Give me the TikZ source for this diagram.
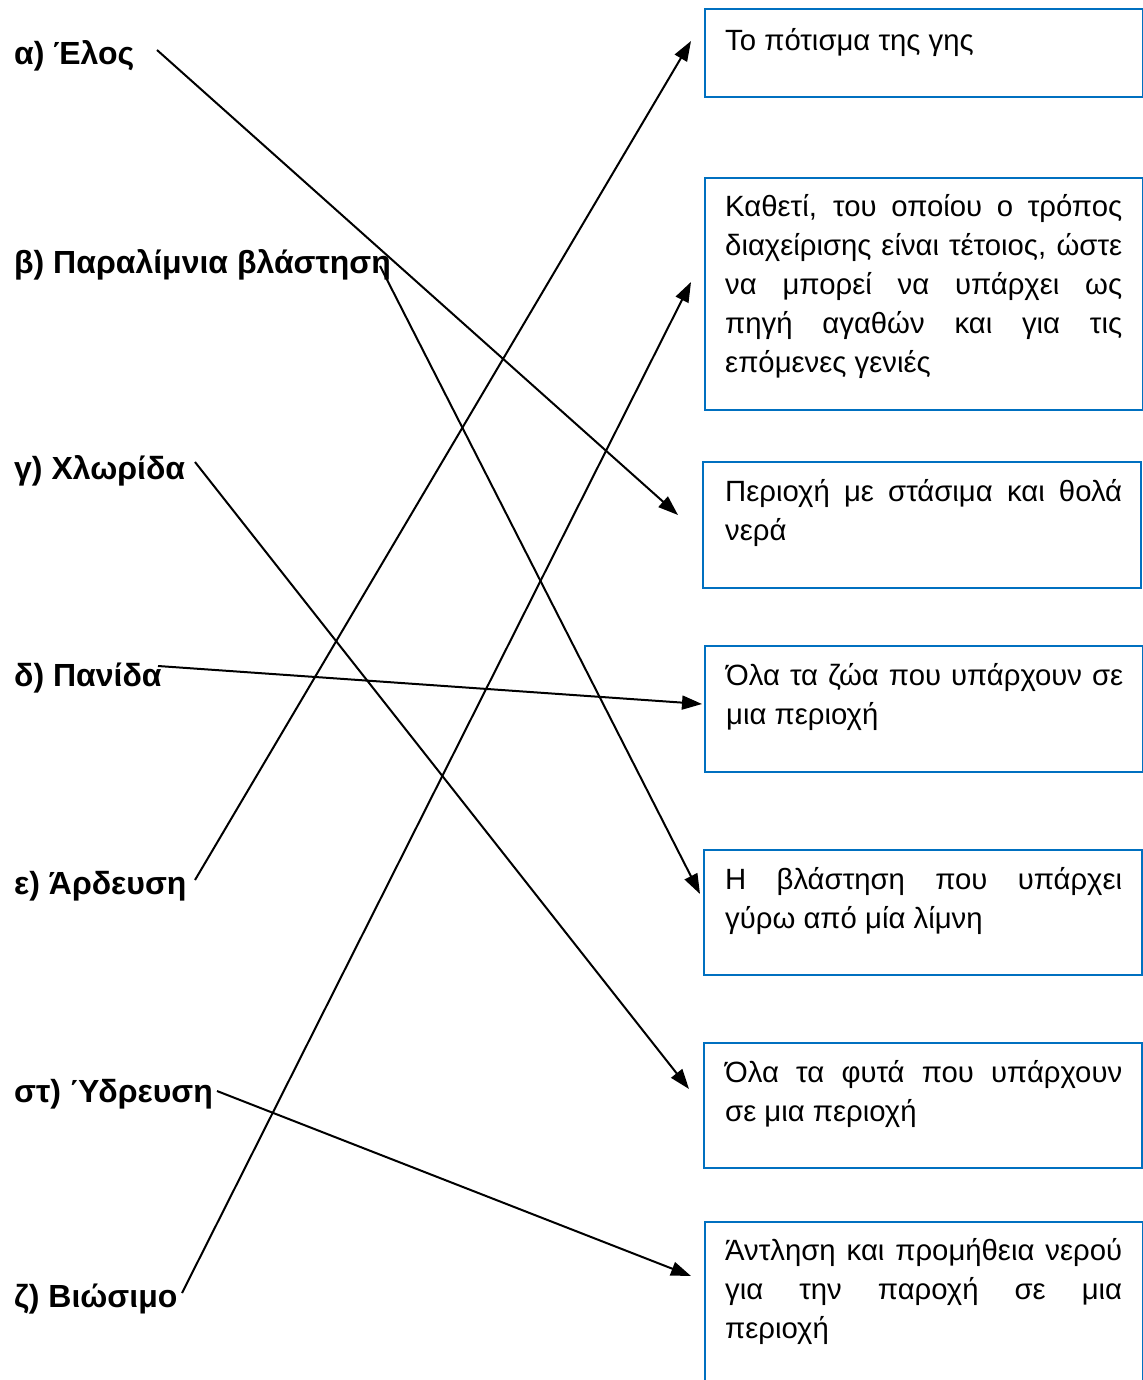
\documentclass[tikz,border=0pt]{standalone}
\usepackage{fontspec}
\setmainfont{Liberation Sans}
\usetikzlibrary{arrows.meta}
\definecolor{boxblue}{RGB}{0,112,192}
\newcommand{\jl}[1]{\leavevmode{\spaceskip=\fontdimen2\font plus 1fil\relax\hbox to 397pt{#1}}}
\newcommand{\natl}[1]{\leavevmode{\spaceskip=0pt\relax\hbox{#1}}}
\begin{document}
\begin{tikzpicture}[x=1pt,y=-1pt,
  lbl/.style={anchor=base west, inner sep=0pt, font=\fontsize{32}{38}\selectfont\bfseries},
  boxst/.style={draw=boxblue, line width=2pt, minimum width=438pt, anchor=north west, inner sep=0pt},
  txt/.style={anchor=north west, inner sep=0pt, text width=397pt, align=left, font=\fontsize{29.3}{39}\selectfont},
  arr/.style={line width=2pt, -{Triangle[length=20pt,width=14pt]}}]
\useasboundingbox[fill=white] (0,0) rectangle (1142,1380);

% left labels
\node[lbl] (la) at (14,65)   {α) Έλος};
\node[lbl] (lb) at (14,273)  {β) Παραλίμνια βλάστηση};
\node[lbl] (lc) at (14,479)  {γ) Χλωρίδα};
\node[lbl] (ld) at (14,686)  {δ) Πανίδα};
\node[lbl] (le) at (14,894)  {ε) Άρδευση};
\node[lbl] (lf) at (14,1102) {στ) Ύδρευση};
\node[lbl] (lg) at (14,1307) {ζ) Βιώσιμο};

% boxes
\node[boxst, minimum height=88pt]  (b1) at (704,8)    {};
\node[boxst, minimum height=232pt] (b2) at (704,177)  {};
\node[boxst, minimum height=126pt] (b3) at (702,461)  {};
\node[boxst, minimum height=126pt] (b4) at (704,645)  {};
\node[boxst, minimum height=125pt] (b5) at (703,849)  {};
\node[boxst, minimum height=125pt] (b6) at (703,1042) {};
\node[boxst, minimum height=200pt] (b7) at (704,1221) {};

% box texts
\node[txt] (t1) at (725,22.7) {\strut\natl{Το πότισμα της γης}};
\node[txt] (t2) at (725,188.7) {\strut\jl{Καθετί, του οποίου ο τρόπος}\\\jl{διαχείρισης είναι τέτοιος, ώστε}\\\jl{να μπορεί να υπάρχει ως}\\\jl{πηγή αγαθών και για τις}\\\natl{επόμενες γενιές}};
\node[txt] (t3) at (725,473.7) {\strut\jl{Περιοχή με στάσιμα και θολά}\\\natl{νερά}};
\node[txt] (t4) at (726,657.7) {\strut\jl{Όλα τα ζώα που υπάρχουν σε}\\\natl{μια περιοχή}};
\node[txt] (t5) at (725,861.7) {\strut\jl{Η βλάστηση που υπάρχει}\\\natl{γύρω από μία λίμνη}};
\node[txt] (t6) at (725,1054.7) {\strut\jl{Όλα τα φυτά που υπάρχουν}\\\natl{σε μια περιοχή}};
\node[txt] (t7) at (725,1232.7) {\strut\jl{Άντληση και προμήθεια νερού}\\\jl{για την παροχή σε μια}\\\natl{περιοχή}};

% arrow end points
\coordinate (sa) at (157,50);   \coordinate (ea) at (678,515);
\coordinate (sb) at (380,266);  \coordinate (eb) at (700,894);
\coordinate (sc) at (195,462);  \coordinate (ec) at (689,1089);
\coordinate (sd) at (158,666);  \coordinate (ed) at (702,704);
\coordinate (se) at (195,880);  \coordinate (ee) at (691,41);
\coordinate (sf) at (217,1091); \coordinate (ef) at (691,1276);
\coordinate (sg) at (182,1293); \coordinate (eg) at (691,282);

\draw[arr] (sa) -- (ea);
\draw[arr] (sb) -- (eb);
\draw[arr] (sc) -- (ec);
\draw[arr] (sd) -- (ed);
\draw[arr] (se) -- (ee);
\draw[arr] (sf) -- (ef);
\draw[arr] (sg) -- (eg);
\end{tikzpicture}
\end{document}
